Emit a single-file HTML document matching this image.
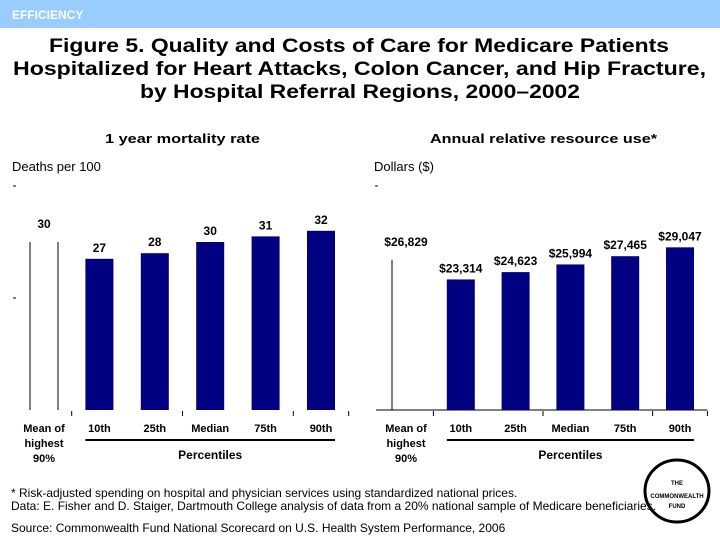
<!DOCTYPE html>
<html><head><meta charset="utf-8"><style>
body{margin:0;width:720px;height:540px;background:#fff;overflow:hidden;font-family:"Liberation Sans",Arial,sans-serif}
</style></head><body>
<svg id="s" width="720" height="540" xmlns="http://www.w3.org/2000/svg" font-family="Liberation Sans, Arial, sans-serif">
<rect x="0" y="0" width="720" height="28" fill="#99ccff"/>
<text x="12" y="19" fill="#fff" font-size="12" font-weight="bold">EFFICIENCY</text>
<g font-size="19" font-weight="bold">
<text x="49" y="52" textLength="620" lengthAdjust="spacingAndGlyphs">Figure 5. Quality and Costs of Care for Medicare Patients</text>
<text x="13" y="75" textLength="693" lengthAdjust="spacingAndGlyphs">Hospitalized for Heart Attacks, Colon Cancer, and Hip Fracture,</text>
<text x="140" y="98" textLength="440" lengthAdjust="spacingAndGlyphs">by Hospital Referral Regions, 2000–2002</text>
</g>
<text x="105" y="143" font-size="13" font-weight="bold" textLength="155" lengthAdjust="spacingAndGlyphs">1 year mortality rate</text>
<text x="12" y="171" font-size="13">Deaths per 100</text>
<text x="430" y="143" font-size="13" font-weight="bold" textLength="227" lengthAdjust="spacingAndGlyphs">Annual relative resource use*</text>
<text x="374" y="171" font-size="13">Dollars ($)</text>
<g id="L"></g><g id="R"></g>
<g font-size="12">
<text x="11" y="497">* Risk-adjusted spending on hospital and physician services using standardized national prices.</text>
<text x="11" y="510" textLength="645" lengthAdjust="spacingAndGlyphs">Data: E. Fisher and D. Staiger, Dartmouth College analysis of data from a 20% national sample of Medicare beneficiaries.</text>
<text x="11" y="532">Source: Commonwealth Fund National Scorecard on U.S. Health System Performance, 2006</text>
</g>
<g>
<ellipse cx="677" cy="491" rx="32" ry="31" fill="none" stroke="#000" stroke-width="3"/>
<g font-size="6" font-weight="bold" text-anchor="middle"><text x="677" y="485">THE</text><text x="677" y="498">COMMONWEALTH</text><text x="677" y="508">FUND</text></g>
</g>
</svg>
<script>
const categories=["Mean of highest 90%","10th","25th","Median","75th","90th"];
const mortalityValues=[30,27,28,30,31,32];
const mortalityLabels=["30","27","28","30","31","32"];
const costValues=[26829,23314,24623,25994,27465,29047];
const costLabels=["$26,829","$23,314","$24,623","$25,994","$27,465","$29,047"];
const mortalityTicks=[20,40];
const costTicks=[40000];
const NS="http://www.w3.org/2000/svg";
function mk(p,t,a){const e=document.createElementNS(NS,t);for(const k in a)e.setAttribute(k,a[k]);p.appendChild(e);return e;}
function chart(g,vals,labels,ticks,max,x0,step,baseline,drawBase,name){
  const h=224;const y=v=>baseline-v/max*h;const bw=28;
  ticks.forEach(t=>{const tk=mk(g,'line',{x1:x0-31,x2:x0-28,y1:y(t),y2:y(t),stroke:'#000'});
    
    });
  if(drawBase){const b=mk(g,'line',{x1:x0-30,x2:x0+5.5*step,y1:baseline,y2:baseline,stroke:'#000'});
    
    }
  [0.5,2.5,4.5,5.5].forEach(f=>{const tx=x0+f*step;const t=mk(g,'line',{x1:tx,x2:tx,y1:baseline+1,y2:baseline+6,stroke:'#000'});
    
    });
  vals.forEach((v,i)=>{
    const cx=x0+i*step;
    if(i===0){
      const l=mk(g,'line',{x1:cx-14,x2:cx-14,y1:y(v),y2:baseline,stroke:'#000'});
      
      
      if(name==='mortality'){const r=mk(g,'line',{x1:cx+14,x2:cx+14,y1:y(v),y2:baseline,stroke:'#000'});
        
        }
    } else {
      const r=mk(g,'rect',{x:cx-bw/2,y:y(v),width:bw,height:baseline-y(v),fill:'#000080'});
      
      
    }
    const t=mk(g,'text',{x:cx,y:y(v)-(i===0?14:7),'font-size':12,'font-weight':'bold','text-anchor':'middle'});
    t.textContent=labels[i];
    
    
    const c=mk(g,'text',{x:cx,y:baseline+22,'font-size':11,'font-weight':'bold','text-anchor':'middle'});
    if(i===0){['Mean of','highest','90%'].forEach((s,j)=>{const ts=mk(c,'tspan',{x:cx,dy:j?15:0});ts.textContent=s;});}
    else c.textContent=categories[i];
    
    
  });
  const pl=mk(g,'line',{x1:x0+step-14,x2:x0+5*step+14,y1:baseline+30,y2:baseline+30,stroke:'#000','stroke-width':2});
  
  
  const pt=mk(g,'text',{x:x0+3*step,y:baseline+49,'font-size':12,'font-weight':'bold','text-anchor':'middle'});
  pt.textContent='Percentiles';
  
  
}
chart(document.getElementById('L'),mortalityValues,mortalityLabels,mortalityTicks,40,44,55.4,410,false,'mortality');
chart(document.getElementById('R'),costValues,costLabels,costTicks,40000,406,54.8,410,true,'cost');
</script>
</body></html>
